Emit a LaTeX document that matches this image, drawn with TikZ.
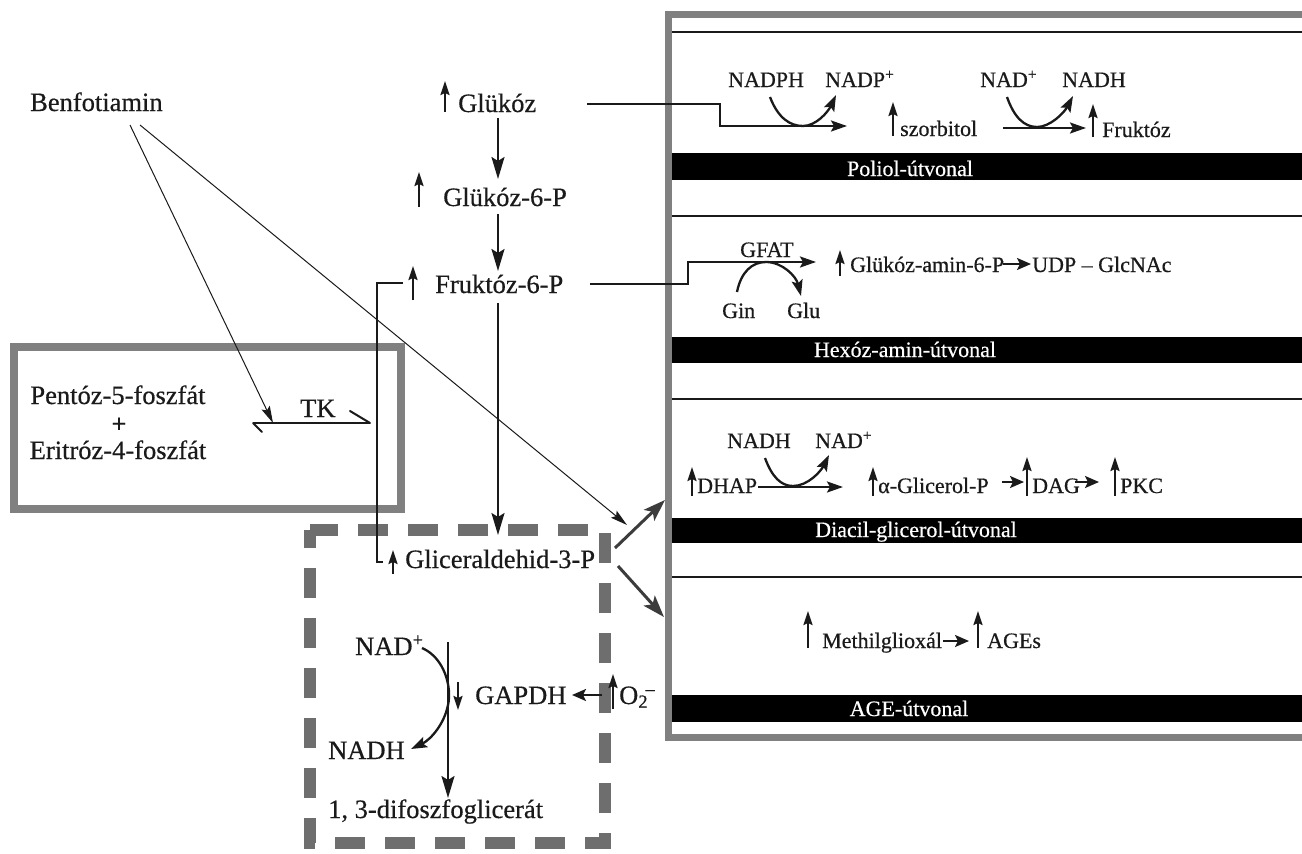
\documentclass[tikz,border=0pt]{standalone}
\usepackage{fontspec}
\setmainfont{Liberation Serif}[FakeBold=0.5]
\usetikzlibrary{arrows.meta}
\definecolor{frame}{HTML}{808080}
\definecolor{dashc}{HTML}{6E6E6E}
\definecolor{ink}{HTML}{1A1A1A}
\tikzset{
  txt/.style={inner sep=0pt, text=ink, font=\fontsize{26.5}{30}\selectfont},
  ptxt/.style={inner sep=0pt, text=ink, font=\fontsize{22}{26}\selectfont},
  bartxt/.style={inner sep=0pt, text=white, font=\fontsize{22}{26}\selectfont},
  flow/.style={draw=ink, line width=2.3pt, -{Stealth[length=22pt,width=13pt,inset=4pt]}},
  pflow/.style={draw=ink, line width=2.3pt, -{Stealth[length=16pt,width=11pt,inset=3pt]}},
  small/.style={draw=ink, line width=2.3pt, -{Stealth[length=14pt,width=12pt,inset=3pt]}},
  uparr/.style={draw=ink, line width=2.2pt, -{Stealth[length=14pt,width=9pt,inset=2pt]}},
  thin/.style={draw=ink, line width=1pt, -{Stealth[length=17pt,width=9pt,inset=3pt]}},
  big/.style={draw=ink!85, line width=3pt, -{Stealth[length=22pt,width=15pt,inset=5pt]}},
  plain/.style={draw=ink, line width=2pt},
  bar/.style={fill=black, draw=none},
  sep/.style={draw=ink, line width=1.8pt},
}
\begin{document}
\begin{tikzpicture}[x=1pt,y=-1pt]
\useasboundingbox (0,0) rectangle (1302,854);
\fill[white] (0,0) rectangle (1302,854);

% ---------- right frame ----------
\draw[frame, line width=7pt] (1306,14) -- (668,14) -- (668,737) -- (1306,737);
\foreach \yy in {32,216,399,577} \draw[sep] (672,\yy) -- (1302,\yy);
\fill[bar] (672,153) rectangle (1302,180);
\fill[bar] (672,337) rectangle (1302,363);
\fill[bar] (672,518) rectangle (1302,543);
\fill[bar] (672,695) rectangle (1302,722);
\node[bartxt, anchor=base] (lpol) at (910,176) {Poliol-útvonal};
\node[bartxt, anchor=base] (lhex) at (905,357) {Hexóz-amin-útvonal};
\node[bartxt, anchor=base] (ldag) at (916,537) {Diacil-glicerol-útvonal};
\node[bartxt, anchor=base] (lage) at (909,716) {AGE-útvonal};

% ---------- left box ----------
\draw[frame, line width=8pt] (14,347) rectangle (401,509);
\node[ptxt, anchor=center, font=\fontsize{26}{28}\selectfont\bfseries] (plus) at (119,425) {+};
\node[txt, anchor=base] (pent) at (118,404) {Pentóz-5-foszfát};
\node[txt, anchor=base] (erit) at (118,459) {Eritróz-4-foszfát};
\node[txt, anchor=base west] (tk) at (300,417) {TK};
\coordinate (tkL) at (253,423);
\coordinate (tkR) at (370,423);
\draw[plain] (tkL) -- (tkR);
\draw[plain, line cap=round] (tkL) -- (262,432);
\draw[plain, line cap=round] (tkR) -- (350,411);

% ---------- dashed box ----------
\draw[dashc, line width=12pt, dash pattern=on 30pt off 20pt, dash phase=12pt] (310,530) rectangle (605,843);

% ---------- main column ----------
\node[txt, anchor=base west] (benf) at (30,111) {Benfotiamin};
\node[txt, anchor=base west] (glu) at (458,112) {Glükóz};
\node[txt, anchor=base west] (g6p) at (443,206) {Glükóz-6-P};
\node[txt, anchor=base west] (f6p) at (435,293) {Fruktóz-6-P};
\node[txt, anchor=base west] (ga3p) at (405,568) {Gliceraldehid-3-P};
\draw[uparr] (445,112) -- (445,81);
\draw[uparr] (419,207) -- (419,172);
\draw[uparr] (413,300) -- (413,266);
\draw[uparr] (393,574) -- (393,550);

\coordinate (c1a) at (498,118); \coordinate (c1b) at (498,179);
\coordinate (c2a) at (498,214); \coordinate (c2b) at (498,271);
\coordinate (c3a) at (498,303); \coordinate (c3b) at (498,535);
\draw[flow] (c1a) -- (c1b);
\draw[flow] (c2a) -- (c2b);
\draw[flow] (c3a) -- (c3b);

% bracket F6P -> GA3P
\draw[draw=ink, line width=1.6pt] (403,283) -- (377,283) -- (377,562) -- (383,562);

% Benfotiamin arrows
\coordinate (bf1) at (130,125); \coordinate (bf2) at (140,125);
\draw[thin] (bf1) -- (273,423);
\draw[thin] (bf2) -- (627,525);

% GA3P to pathways
\draw[big] (615,548) -- (665,500);
\draw[big] (618,566) -- (664,617);

% ---------- GAPDH part ----------
\node[txt, anchor=base west] (nadp) at (355,655) {NAD\textsuperscript{+}};
\node[txt, anchor=base west] (nadhb) at (328,759) {NADH};
\node[txt, anchor=base west] (gapdh) at (475,704) {GAPDH};
\node[txt, anchor=base west] (o2) at (619,704) {O\textsubscript{2}\kern-0.1em\textsuperscript{–}};
\node[txt, anchor=base west] (dpg) at (328,818) {1, 3-difoszfoglicerát};
\draw[flow] (448,642) -- (448,798);
\draw[pflow] (422,648) .. controls (445,658) and (452,688) .. (448,705) .. controls (444,725) and (430,740) .. (411,749);
\draw[uparr] (458,682) -- (458,710);
\draw[small] (602,695) -- (572,695);
\draw[uparr] (613,709) -- (613,674);

% ---------- Poliol ----------
\node[ptxt, anchor=base west] (nadph) at (728,87) {NADPH};
\node[ptxt, anchor=base west] (nadpp) at (825,87) {NADP\textsuperscript{+}};
\node[ptxt, anchor=base west] (sorb) at (900,136) {szorbitol};
\node[ptxt, anchor=base west] (nadp2) at (980,87) {NAD\textsuperscript{+}};
\node[ptxt, anchor=base west] (nadh2) at (1062,87) {NADH};
\node[ptxt, anchor=base west] (fru) at (1102,137) {Fruktóz};
\draw[pflow] (587,104) -- (720,104) -- (720,126) -- (847,126);
\draw[pflow] (770,97) .. controls (778,118) and (790,126) .. (803,126) .. controls (816,126) and (828,112) .. (836,95);
\draw[uparr] (893,136) -- (893,102);
\draw[pflow] (1003,128) -- (1086,128);
\draw[pflow] (1007,97) .. controls (1014,117) and (1024,127) .. (1037,127) .. controls (1050,127) and (1064,113) .. (1073,96);
\draw[uparr] (1093,137) -- (1093,104);

% ---------- Hexoz-amin ----------
\node[ptxt, anchor=base west] (gfat) at (740,257) {GFAT};
\node[ptxt, anchor=base west] (gin) at (722,318) {Gin};
\node[ptxt, anchor=base west] (glu2) at (787,318) {Glu};
\node[ptxt, anchor=base west] (ga6p) at (850,272) {Glükóz-amin-6-P};
\node[ptxt, anchor=base west] (udp) at (1032,272) {UDP -- GlcNAc};
\draw[pflow] (590,284) -- (688,284) -- (688,262) -- (816,262);
\draw[pflow] (737,292) .. controls (741,272) and (752,262) .. (766,262) .. controls (782,262) and (796,276) .. (801,296);
\draw[uparr] (840,276) -- (840,250);
\draw[small] (1003,264) -- (1031,264);

% ---------- Diacil-glicerol ----------
\node[ptxt, anchor=base west] (nadh3) at (727,448) {NADH};
\node[ptxt, anchor=base west] (nadp3) at (815,448) {NAD\textsuperscript{+}};
\node[ptxt, anchor=base west] (dhap) at (697,493) {DHAP};
\node[ptxt, anchor=base west] (agp) at (878,493) {α-Glicerol-P};
\node[ptxt, anchor=base west] (dag) at (1032,493) {DAG};
\node[ptxt, anchor=base west] (pkc) at (1120,493) {PKC};
\draw[uparr] (692,496) -- (692,467);
\draw[pflow] (758,487) -- (843,487);
\draw[pflow] (765,458) .. controls (772,477) and (781,486) .. (793,486) .. controls (808,486) and (821,471) .. (829,455);
\draw[uparr] (873,496) -- (873,467);
\draw[small] (1002,482) -- (1024,482);
\draw[uparr] (1027,496) -- (1027,457);
\draw[small] (1075,482) -- (1099,482);
\draw[uparr] (1115,496) -- (1115,457);

% ---------- AGE ----------
\node[ptxt, anchor=base west] (mgo) at (822,648) {Methilglioxál};
\node[ptxt, anchor=base west] (ages) at (987,648) {AGEs};
\draw[uparr] (808,648) -- (808,611);
\draw[small] (943,641) -- (969,641);
\draw[uparr] (978,648) -- (978,611);
\end{tikzpicture}
\end{document}
